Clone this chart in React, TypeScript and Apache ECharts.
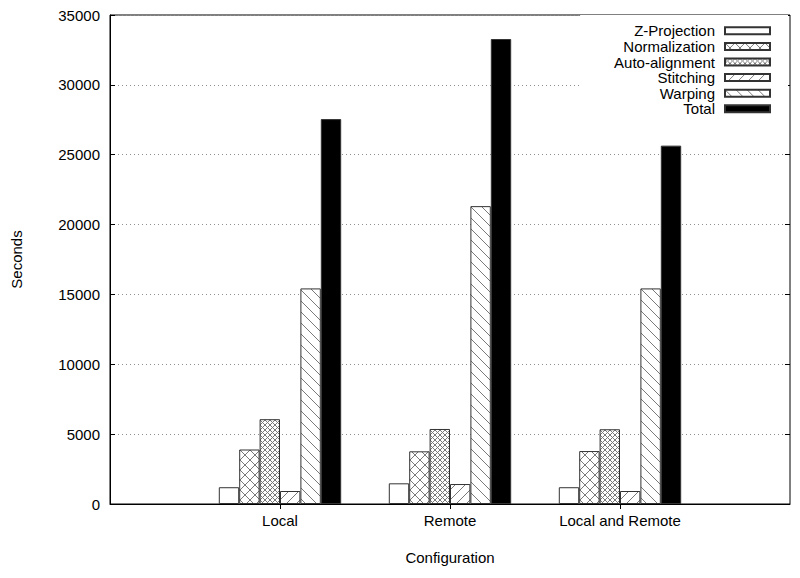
import React, { useEffect, useRef } from "react";
import * as echarts from "echarts";

const categories = ["Local", "Remote", "Local and Remote"];
const seriesNames = ["Z-Projection", "Normalization", "Auto-alignment", "Stitching", "Warping", "Total"];
const zProjection = [1200, 1480, 1200];
const normalization = [3900, 3770, 3790];
const autoAlignment = [6070, 5370, 5350];
const stitching = [930, 1430, 930];
const warping = [15430, 21320, 15430];
const total = [27550, 33280, 25650];
const yMin = 0;
const yMax = 35000;
const yStep = 5000;

const FONT = "'Liberation Sans', Arial, Helvetica, sans-serif";

type Draw = (ctx: CanvasRenderingContext2D, s: number) => void;

function makeTile(size: number, draw: Draw | null): HTMLCanvasElement {
  const c = document.createElement("canvas");
  c.width = size;
  c.height = size;
  const ctx = c.getContext("2d")!;
  ctx.fillStyle = "#ffffff";
  ctx.fillRect(0, 0, size, size);
  ctx.strokeStyle = "#7a7a7a";
  ctx.lineWidth = 1;
  if (draw) draw(ctx, size);
  return c;
}

const slash: Draw = (ctx, s) => {
  ctx.beginPath();
  for (let k = -1; k <= 1; k++) {
    ctx.moveTo(k * s, s);
    ctx.lineTo(k * s + s, 0);
  }
  ctx.stroke();
};
const backslash: Draw = (ctx, s) => {
  ctx.beginPath();
  for (let k = -1; k <= 1; k++) {
    ctx.moveTo(k * s, 0);
    ctx.lineTo(k * s + s, s);
  }
  ctx.stroke();
};
const cross: Draw = (ctx, s) => {
  slash(ctx, s);
  backslash(ctx, s);
};

export default function App() {
  const ref = useRef<HTMLDivElement>(null);

  useEffect(() => {
    document.body.style.margin = "0";
    if (!ref.current) return;
    const chart = echarts.init(ref.current, undefined, { renderer: "svg" });

    const fills: any[] = [
      "#ffffff",
      { image: makeTile(10, cross), repeat: "repeat" },
      { image: makeTile(5, cross), repeat: "repeat" },
      { image: makeTile(10, slash), repeat: "repeat" },
      { image: makeTile(11, backslash), repeat: "repeat" },
      "#000000",
    ];
    const values = [zProjection, normalization, autoAlignment, stitching, warping, total];
    const axisCats = ["", ...categories, ""];

    const series = seriesNames.map((name, i) => ({
      name,
      type: "bar",
      xAxisIndex: 0,
      yAxisIndex: 0,
      barWidth: 20.4,
      barGap: "0%",
      data: ["-", ...values[i], "-"],
      itemStyle: {
        color: fills[i],
        borderColor: "#333",
        borderWidth: 1,
      },
      emphasis: { disabled: true },
    }));

    const tickInterval = (idx: number) => idx > 0 && idx < axisCats.length - 1;

    chart.setOption({
      animation: false,
      backgroundColor: "#ffffff",
      textStyle: { fontFamily: FONT, color: "#000" },
      grid: {
        left: 110,
        right: 10,
        top: 15,
        bottom: 74,
        show: true,
        borderColor: "#000",
        borderWidth: 1,
        containLabel: false,
      },
      legend: {
        data: seriesNames,
        orient: "vertical",
        align: "right",
        right: 12,
        top: 15,
        padding: [8, 17, 4, 34],
        backgroundColor: "#ffffff",
        itemWidth: 45,
        itemHeight: 7,
        itemGap: 0,
        icon: "rect",
        selectedMode: false,
        textStyle: {
          fontFamily: FONT,
          fontSize: 15,
          lineHeight: 15.6,
          color: "#000",
          padding: [0, 5, 0, 0],
        },
      },
      xAxis: [
        {
          type: "category",
          data: axisCats,
          boundaryGap: false,
          position: "bottom",
          name: "Configuration",
          nameLocation: "middle",
          nameGap: 46,
          nameTextStyle: { fontFamily: FONT, fontSize: 15, color: "#000" },
          axisLine: { show: true, lineStyle: { color: "#000", width: 1 } },
          axisTick: { show: true, inside: true, length: 5, interval: tickInterval, lineStyle: { color: "#000" } },
          axisLabel: { interval: 0, margin: 9, fontFamily: FONT, fontSize: 15, color: "#000" },
          splitLine: { show: false },
        },
        {
          type: "category",
          data: axisCats,
          boundaryGap: false,
          position: "top",
          axisLine: { show: false },
          axisTick: { show: true, inside: true, length: 5, interval: tickInterval, lineStyle: { color: "#000" } },
          axisLabel: { show: false },
          splitLine: { show: false },
        },
      ],
      yAxis: [
        {
          type: "value",
          min: yMin,
          max: yMax,
          interval: yStep,
          position: "left",
          name: "Seconds",
          nameLocation: "middle",
          nameGap: 86,
          nameTextStyle: { fontFamily: FONT, fontSize: 15, color: "#000" },
          axisLine: { show: true, lineStyle: { color: "#000", width: 1 } },
          axisTick: { show: true, inside: true, length: 5, lineStyle: { color: "#000" } },
          axisLabel: {
            margin: 10,
            fontFamily: FONT,
            fontSize: 15,
            color: "#000",
            formatter: (v: number) => String(v),
          },
          splitLine: { show: true, lineStyle: { color: "#909090", width: 1, type: [1, 3] } },
        },
        {
          type: "value",
          min: yMin,
          max: yMax,
          interval: yStep,
          position: "right",
          axisLine: { show: false },
          axisTick: { show: true, inside: true, length: 5, lineStyle: { color: "#000" } },
          axisLabel: { show: false },
          splitLine: { show: false },
        },
      ],
      series,
    });

    return () => {
      chart.dispose();
    };
  }, []);

  return <div ref={ref} style={{ width: 800, height: 578 }} />;
}
